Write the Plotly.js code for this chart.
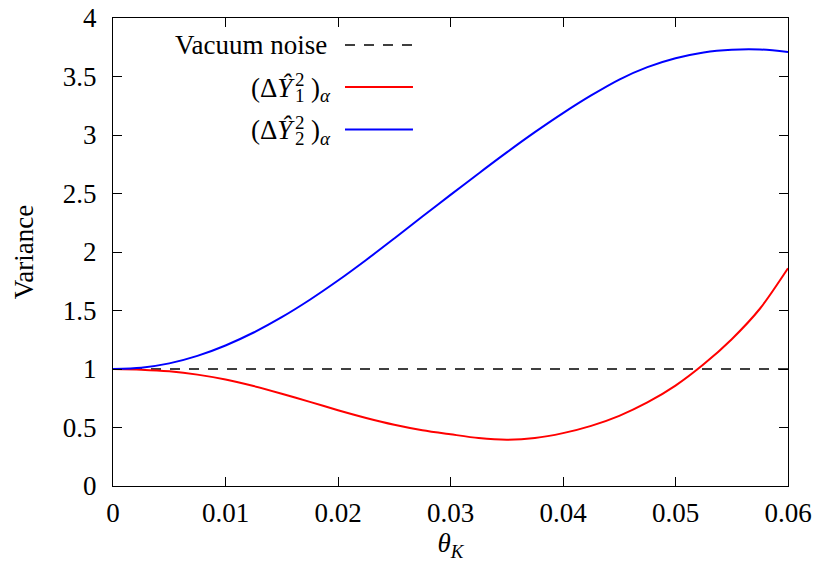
<!DOCTYPE html>
<html>
<head>
<meta charset="utf-8">
<script src="https://cdn.plot.ly/plotly-3.0.1.min.js"></script>
<style>html,body{margin:0;padding:0;background:#fff;}#chart{width:816px;height:568px;}</style>
</head>
<body>
<div id="chart"></div>
<script>
// Vacuum noise reference level
const vacuumTheta = [0, 0.06];
const vacuumVar = [1, 1];

// theta_K sample positions
const theta = [0, 0.0025, 0.005, 0.0075, 0.01, 0.0125, 0.015, 0.0175, 0.02, 0.0225, 0.025, 0.0275, 0.03,
               0.0325, 0.035, 0.0375, 0.04, 0.0425, 0.045, 0.0475, 0.05, 0.0525, 0.055, 0.0575, 0.06];

// (ΔŶ1²)α  (red)
const y1Var = [1, 0.994, 0.980, 0.952, 0.910, 0.854, 0.789, 0.719, 0.648, 0.582, 0.524, 0.477, 0.442,
               0.410, 0.396, 0.410, 0.452, 0.514, 0.600, 0.714, 0.858, 1.040, 1.255, 1.515, 1.861];

// (ΔŶ2²)α  (blue)
const y2Var = [1, 1.011, 1.048, 1.112, 1.201, 1.312, 1.443, 1.592, 1.756, 1.932, 2.116, 2.303, 2.488,
               2.671, 2.851, 3.024, 3.187, 3.338, 3.474, 3.580, 3.656, 3.706, 3.729, 3.731, 3.710];

const xTicks = [0, 0.01, 0.02, 0.03, 0.04, 0.05, 0.06];
const xTickText = ['0', '0.01', '0.02', '0.03', '0.04', '0.05', '0.06'];
const yTicks = [0, 0.5, 1, 1.5, 2, 2.5, 3, 3.5, 4];
const yTickText = ['0', '0.5', '1', '1.5', '2', '2.5', '3', '3.5', '4'];

const FONT = 'Liberation Serif';

const traces = [
  {x: vacuumTheta, y: vacuumVar, mode: 'lines', line: {color: '#000', width: 1.5, dash: '10px,9px'}, hoverinfo: 'skip'},
  {x: theta, y: y1Var, mode: 'lines', line: {color: '#ff0000', width: 2, shape: 'spline', smoothing: 0.8}, hoverinfo: 'skip'},
  {x: theta, y: y2Var, mode: 'lines', line: {color: '#0000ff', width: 2, shape: 'spline', smoothing: 0.8}, hoverinfo: 'skip'}
];

// legend (gnuplot style: text right-aligned, line sample to the right)
const legRows = [0.9423, 0.8526, 0.7618];
const legStyles = [
  {color: '#000', width: 1.5, dash: '10px,9px'},
  {color: '#ff0000', width: 2},
  {color: '#0000ff', width: 2}
];
const big = {family: FONT, size: 27, color: '#000'};
const small = {family: FONT, size: 19, color: '#000'};
function ann(x, y, text, anchor, font, yshift) {
  return {xref: 'paper', yref: 'paper', x: x, y: y, xanchor: anchor, yanchor: 'middle',
          text: text, showarrow: false, font: font, yshift: yshift || 0, borderpad: 0};
}
const annotations = [ann(0.3185, legRows[0], 'Vacuum noise', 'right', big, 0)];
['1', '2'].forEach((idx, k) => {
  const r = legRows[k + 1];
  annotations.push(ann(0.2711, r, '(Δ<i>Ŷ</i>', 'right', big, -1));
  annotations.push(ann(0.2859, r, '2', 'right', small, 7));
  annotations.push(ann(0.2859, r, idx, 'right', small, -9));
  annotations.push(ann(0.2919, r, ')', 'left', big, -1));
  annotations.push(ann(0.3052, r, '<i>α</i>', 'left', small, -9));
});
const shapes = legStyles.map((s, i) => ({
  type: 'line', xref: 'paper', yref: 'paper', x0: 0.3437, x1: 0.4444, y0: legRows[i], y1: legRows[i], line: s
}));

const axisCommon = {
  showgrid: false, zeroline: false, showline: true, linecolor: '#000', linewidth: 1.2,
  mirror: 'ticks', ticks: 'inside', ticklen: 9, tickwidth: 1, tickcolor: '#000',
  tickfont: big, fixedrange: true
};

const layout = {
  width: 816, height: 568,
  margin: {l: 113, r: 28, t: 18, b: 82},
  paper_bgcolor: '#fff', plot_bgcolor: '#fff',
  showlegend: false,
  font: big,
  xaxis: Object.assign({}, axisCommon, {
    range: [0, 0.06], tickmode: 'array', tickvals: xTicks, ticktext: xTickText,
    ticklabelstandoff: 2,
    title: {text: '<i>θ</i><sub><i>K</i></sub>', font: big, standoff: 6}
  }),
  yaxis: Object.assign({}, axisCommon, {
    range: [0, 4], tickmode: 'array', tickvals: yTicks, ticktext: yTickText,
    ticklabelstandoff: 10,
    title: {text: 'Variance', font: big, standoff: 21}
  }),
  annotations: annotations,
  shapes: shapes
};

Plotly.newPlot('chart', traces, layout, {staticPlot: true, displayModeBar: false});
</script>
</body>
</html>
